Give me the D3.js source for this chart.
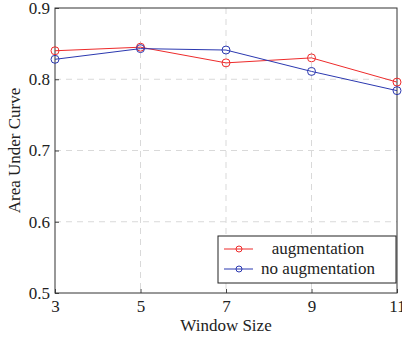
<!DOCTYPE html>
<html>
<head>
<meta charset="utf-8">
<script src="https://cdn.jsdelivr.net/npm/d3@7"></script>
<style>
  body { margin: 0; background: #fff; }
  svg text { font-family: "Liberation Serif", "DejaVu Serif", serif; fill: #222; }
</style>
</head>
<body>
<div id="chart"></div>
<script>
// data
const windowSizes = [3, 5, 7, 9, 11];
const augmentation = [0.840, 0.845, 0.823, 0.830, 0.796];
const noAugmentation = [0.828, 0.843, 0.841, 0.811, 0.784];
const yTicks = [0.5, 0.6, 0.7, 0.8, 0.9];

const series = [
  { name: 'augmentation', values: augmentation, color: '#ee2b2b' },
  { name: 'no augmentation', values: noAugmentation, color: '#2b38b0' }
];

const W = 402, H = 337;
const margin = { top: 8, right: 5, bottom: 44, left: 55 };
const width = W - margin.left - margin.right;
const height = H - margin.top - margin.bottom;

const svg = d3.select('#chart').append('svg')
  .attr('width', W)
  .attr('height', H);

const chart = svg.append('g')
  .attr('transform', `translate(${margin.left}, ${margin.top})`);

const xScale = d3.scaleLinear().domain([3, 11]).range([0, width]);
const yScale = d3.scaleLinear().domain([0.5, 0.9]).range([height, 0]);

// grid
chart.append('g').selectAll('line.gx')
  .data(windowSizes.slice(1, -1))
  .enter().append('line')
  .attr('x1', d => xScale(d)).attr('x2', d => xScale(d))
  .attr('y1', 0).attr('y2', height)
  .attr('stroke', '#d9d9d9').attr('stroke-dasharray', '6,5');
chart.append('g').selectAll('line.gy')
  .data(yTicks.slice(1, -1))
  .enter().append('line')
  .attr('x1', 0).attr('x2', width)
  .attr('y1', d => yScale(d)).attr('y2', d => yScale(d))
  .attr('stroke', '#d9d9d9').attr('stroke-dasharray', '6,5');

// axes
const xAxis = chart.append('g')
  .attr('transform', `translate(0, ${height})`)
  .call(d3.axisBottom(xScale).tickValues(windowSizes).tickSize(-4).tickPadding(5).tickFormat(d3.format('d')));
const yAxis = chart.append('g')
  .call(d3.axisLeft(yScale).tickValues(yTicks).tickSize(-4).tickPadding(5).tickFormat(d3.format('.1f')));
[xAxis, yAxis].forEach(a => {
  a.select('.domain').remove();
  a.selectAll('.tick line').attr('stroke', '#444');
  a.selectAll('.tick text').style('font-size', '17px').attr('fill', '#222');
});
xAxis.selectAll('.tick text').attr('dy', '0.85em');

// frame
chart.append('rect')
  .attr('width', width).attr('height', height)
  .attr('fill', 'none').attr('stroke', '#333').attr('stroke-width', 1);

// lines + markers
const line = d3.line()
  .x((d, i) => xScale(windowSizes[i]))
  .y(d => yScale(d));

series.forEach(s => {
  chart.append('path')
    .datum(s.values)
    .attr('d', line)
    .attr('fill', 'none')
    .attr('stroke', s.color)
    .attr('stroke-width', 1);
  chart.selectAll(null)
    .data(s.values)
    .enter().append('circle')
    .attr('cx', (d, i) => xScale(windowSizes[i]))
    .attr('cy', d => yScale(d))
    .attr('r', 4)
    .attr('fill', 'none')
    .attr('stroke', s.color)
    .attr('stroke-width', 1);
});

// axis titles
svg.append('text')
  .attr('x', margin.left + width / 2).attr('y', 331)
  .attr('text-anchor', 'middle')
  .style('font-size', '17px')
  .text('Window Size');
svg.append('text')
  .attr('transform', `translate(20, ${margin.top + height / 2}) rotate(-90)`)
  .attr('text-anchor', 'middle')
  .style('font-size', '17px')
  .text('Area Under Curve');

// legend
const legend = svg.append('g').attr('transform', 'translate(218, 236)');
legend.append('rect')
  .attr('width', 178).attr('height', 47)
  .attr('fill', '#fff').attr('stroke', '#222').attr('stroke-width', 1);
series.forEach((s, i) => {
  const g = legend.append('g').attr('transform', `translate(0, ${13 + i * 20})`);
  g.append('line').attr('x1', 6).attr('x2', 35)
    .attr('stroke', s.color).attr('stroke-width', 1);
  g.append('circle').attr('cx', 21).attr('r', 3)
    .attr('fill', 'none').attr('stroke', s.color);
  g.append('text')
    .attr('x', 100).attr('dy', '0.32em')
    .attr('text-anchor', 'middle')
    .style('font-size', '17px')
    .text(s.name);
});
</script>
</body>
</html>
